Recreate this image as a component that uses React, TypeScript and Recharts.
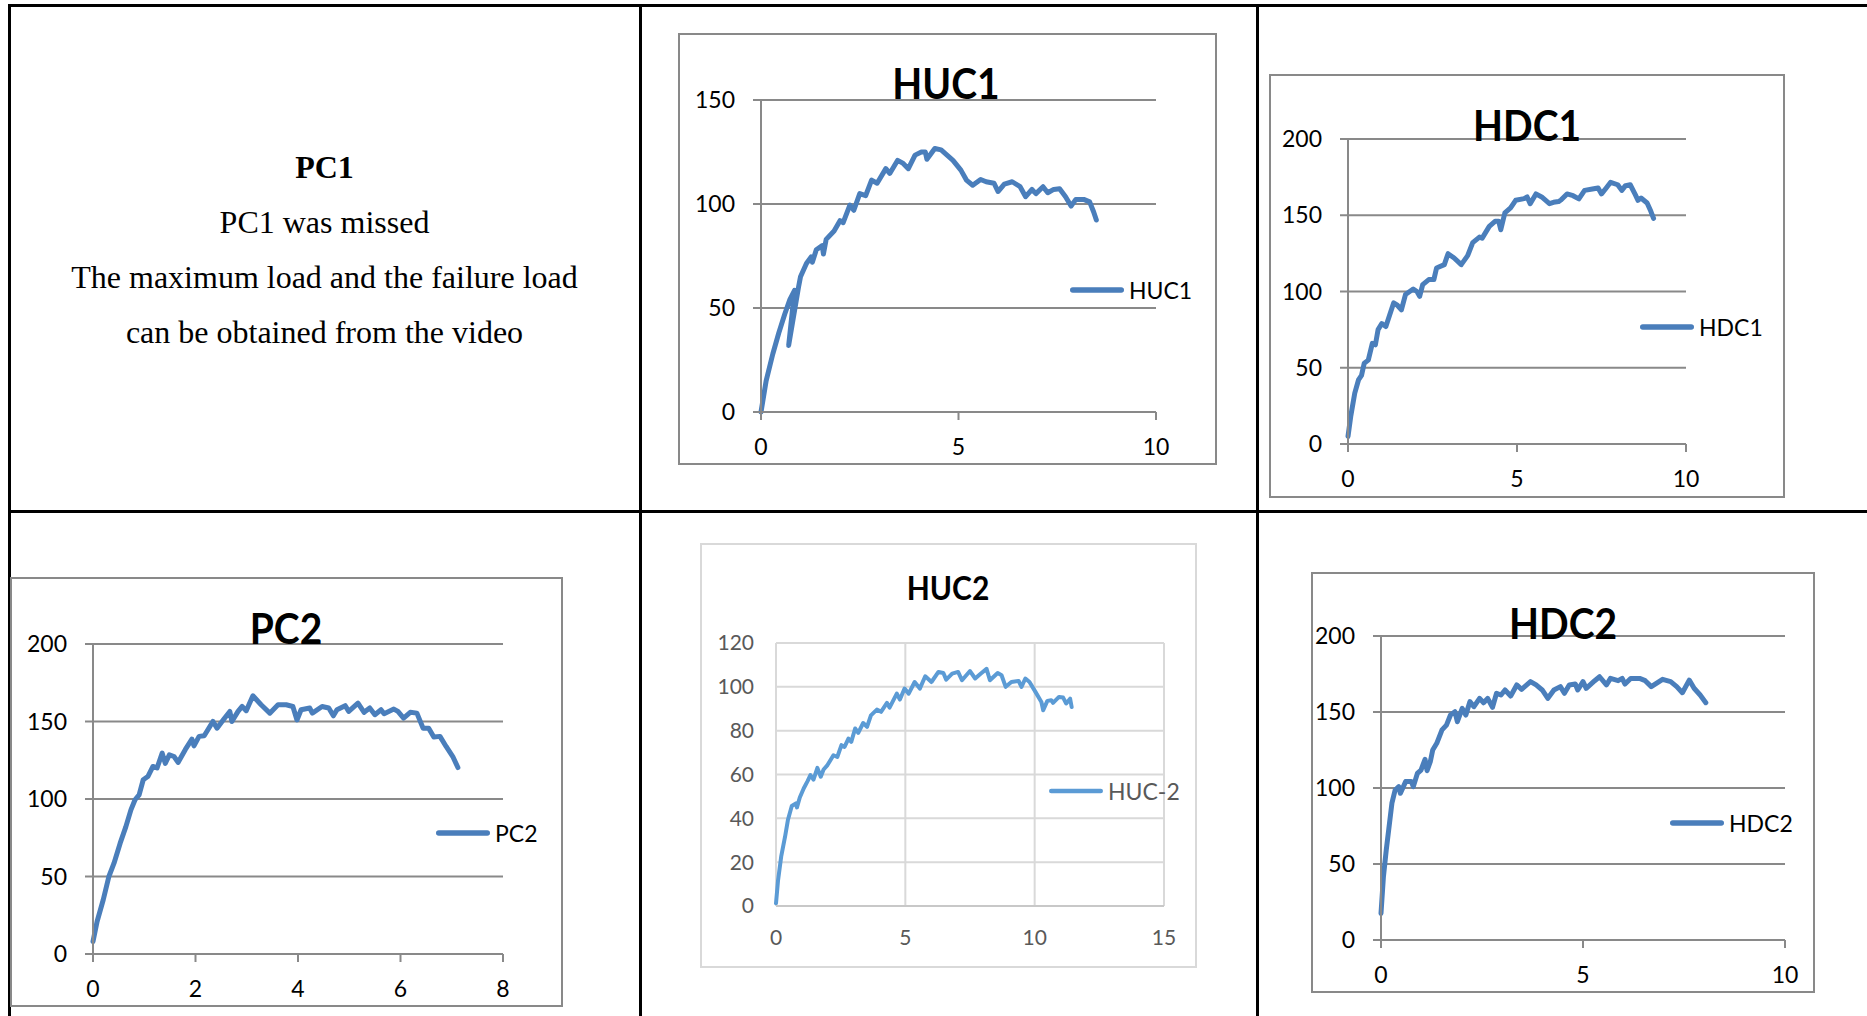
import { LineChart, Line, XAxis, YAxis, CartesianGrid } from "recharts";

// displacement (mm), load (kN)
const huc1 = [
  [0, 0], [0.13, 15], [0.3, 28], [0.45, 38], [0.6, 47], [0.73, 54], [0.85, 58.5], [0.7, 32],
  [0.95, 60], [1.0, 65], [1.15, 71.4], [1.27, 74.6], [1.3, 72], [1.4, 78], [1.55, 80], [1.58, 76],
  [1.65, 83], [1.85, 87], [2.0, 92], [2.08, 91], [2.25, 99.5], [2.35, 97], [2.5, 105], [2.65, 104],
  [2.8, 111.5], [2.94, 110], [3.16, 117], [3.26, 114.7], [3.46, 121], [3.6, 119.5], [3.73, 117],
  [3.9, 123.5], [4.06, 125], [4.16, 125], [4.2, 121.5], [4.4, 126.7], [4.56, 126], [4.86, 121],
  [5.06, 116.3], [5.2, 111.5], [5.36, 109], [5.56, 111.8], [5.7, 110.7], [5.9, 110], [6.0, 106],
  [6.16, 109.6], [6.36, 110.7], [6.56, 108.3], [6.7, 103.5], [6.86, 107], [6.96, 105], [7.14, 108.3],
  [7.26, 105.4], [7.41, 107], [7.56, 107.3], [7.71, 103.5], [7.85, 99], [7.97, 102.2], [8.17, 102.2],
  [8.32, 101], [8.42, 96.3], [8.49, 92.3],
];

const hdc1 = [
  [0, 5], [0.08, 18], [0.2, 33.4], [0.31, 42], [0.4, 45], [0.48, 53], [0.6, 55], [0.72, 66],
  [0.81, 65], [0.89, 75], [1.0, 79], [1.12, 77], [1.35, 92.5], [1.46, 91], [1.58, 88], [1.7, 98],
  [1.93, 101.6], [2.04, 100], [2.12, 96.8], [2.21, 104.5], [2.39, 107.8], [2.54, 107.8], [2.62, 115.4],
  [2.85, 117.6], [2.96, 124.8], [3.14, 122], [3.35, 117.6], [3.54, 123.5], [3.69, 132], [3.89, 135.7],
  [3.97, 135], [4.18, 142.7], [4.35, 146], [4.46, 146], [4.52, 140.5], [4.64, 151.5], [4.81, 154.8],
  [4.96, 159.8], [5.21, 160.9], [5.3, 162], [5.39, 157.6], [5.56, 164], [5.73, 162], [5.96, 157.6],
  [6.08, 158.5], [6.23, 159], [6.3, 160], [6.48, 164], [6.66, 162.8], [6.83, 160.7], [7.0, 166.3],
  [7.23, 167.2], [7.4, 167.9], [7.5, 164], [7.64, 167.9], [7.77, 171.6], [7.98, 170], [8.1, 166.3],
  [8.21, 169.4], [8.35, 170], [8.5, 163.5], [8.58, 159.8], [8.67, 161.3], [8.85, 158], [8.96, 152.6],
  [9.04, 148],
];

const pc2 = [
  [0, 8], [0.08, 21], [0.2, 35], [0.31, 50], [0.41, 58.6], [0.53, 71.5], [0.64, 82], [0.74, 93],
  [0.82, 99.5], [0.9, 102.7], [0.98, 112.4], [1.07, 114.5], [1.17, 121], [1.25, 120], [1.35, 129.6],
  [1.41, 123], [1.49, 128.5], [1.58, 127.4], [1.66, 123.6], [1.8, 131.8], [1.93, 138.6], [1.97, 134.3],
  [2.07, 140.4], [2.17, 140.8], [2.34, 150], [2.42, 145.7], [2.54, 151], [2.67, 156.5], [2.71, 150],
  [2.83, 156.5], [2.91, 159.7], [2.99, 157], [3.12, 166.6], [3.28, 160.8], [3.45, 155.4], [3.61, 160.8],
  [3.77, 160.8], [3.9, 159.7], [3.98, 151], [4.06, 157.6], [4.23, 158.7], [4.28, 155.4], [4.47, 159.7],
  [4.6, 158.7], [4.69, 153.7], [4.76, 157.6], [4.92, 160.2], [4.99, 156.5], [5.17, 161.9], [5.29, 155.9],
  [5.4, 158.7], [5.5, 154.4], [5.62, 157.6], [5.68, 155], [5.87, 158], [5.95, 156.5], [6.06, 152.2],
  [6.19, 155.9], [6.32, 155.4], [6.44, 145.7], [6.55, 145.7], [6.65, 140], [6.77, 140.4], [6.89, 133.9],
  [7.02, 127.4], [7.12, 120.3],
];

const huc2 = [
  [0, 1.2], [0.08, 11.8], [0.2, 22.5], [0.35, 31.6], [0.46, 39.2], [0.61, 45.6], [0.77, 46.8], [0.81, 45],
  [0.92, 49.5], [1.07, 53.6], [1.22, 57], [1.33, 59.7], [1.45, 57.7], [1.6, 63], [1.73, 59], [1.84, 62.3],
  [1.99, 64.3], [2.22, 68.8], [2.37, 68], [2.53, 73.4], [2.65, 72.6], [2.8, 76.4], [2.91, 74.9], [3.06, 81],
  [3.18, 79], [3.37, 83.5], [3.52, 81.7], [3.67, 87], [3.9, 89.6], [4.06, 88.6], [4.29, 92.7], [4.39, 90.5],
  [4.67, 96.9], [4.79, 94.2], [4.97, 99.2], [5.13, 96.9], [5.36, 102.2], [5.56, 99.2], [5.77, 104.8],
  [6.01, 102.2], [6.28, 106.8], [6.47, 106.3], [6.58, 103.3], [6.81, 106], [7.04, 106.8], [7.19, 103],
  [7.5, 107.2], [7.7, 103.8], [7.91, 106], [8.14, 108.2], [8.27, 103], [8.57, 106.3], [8.72, 105.3],
  [8.88, 100], [9.1, 102.2], [9.38, 102.7], [9.49, 100], [9.64, 103.8], [9.8, 102.2], [10.03, 97.7],
  [10.26, 93.1], [10.33, 89.3], [10.49, 93.6], [10.64, 93.9], [10.71, 92.7], [10.94, 95.4], [11.1, 95.1],
  [11.22, 92.4], [11.37, 94.6], [11.43, 90.8],
];

const hdc2 = [
  [0, 17.5], [0.06, 41.7], [0.13, 59.2], [0.19, 72.4], [0.27, 90], [0.35, 98.7], [0.44, 100.9],
  [0.48, 96.5], [0.61, 104.2], [0.75, 104.2], [0.8, 100.9], [0.9, 109.6], [0.99, 111.8], [1.09, 118.9],
  [1.14, 111.4], [1.22, 117.3], [1.28, 125], [1.38, 129.4], [1.51, 138.2], [1.62, 141.4], [1.72, 148],
  [1.83, 150.2], [1.89, 143.6], [2.01, 152.4], [2.1, 148], [2.2, 156.8], [2.3, 153.5], [2.44, 159],
  [2.54, 156.1], [2.64, 159], [2.76, 153.1], [2.86, 162.3], [2.97, 161.2], [3.07, 164.5], [3.21, 160.5],
  [3.36, 167.8], [3.48, 164.9], [3.7, 170], [3.84, 167.8], [3.99, 164.5], [4.13, 159], [4.28, 164.5],
  [4.44, 166.7], [4.54, 162.3], [4.66, 167.8], [4.81, 168.4], [4.87, 164.5], [5.0, 170], [5.08, 165.6],
  [5.29, 170.6], [5.41, 173.2], [5.58, 167.8], [5.68, 172.1], [5.87, 170.6], [5.97, 172.1], [6.04, 168.4],
  [6.18, 172.1], [6.4, 172.1], [6.54, 170.6], [6.69, 166.7], [6.97, 171.5], [7.17, 170], [7.32, 166.7],
  [7.46, 162.7], [7.63, 171], [7.75, 165.6], [7.9, 161.2], [8.04, 156.1],
];

const ticks5of10 = [0, 5, 10];
const ticks2of8 = [0, 2, 4, 6, 8];
const ticks5of15 = [0, 5, 10, 15];
const loadTo150 = [0, 50, 100, 150];
const loadTo200 = [0, 50, 100, 150, 200];
const loadTo120 = [0, 20, 40, 60, 80, 100, 120];

const pc1Note = [
  "PC1 was missed",
  "The maximum load and the failure load",
  "can be obtained from the video",
];

const FONT = "Lato, 'Open Sans', sans-serif";

interface PanelProps {
  name: string;
  title: string;
  points: number[][];
  xTicks: number[];
  yTicks: number[];
  box: { left: number; top: number; width: number; height: number };
  pad: { left: number; right: number; top: number; bottom: number };
  titleAt: [number, number];
  legendAt: [number, number];
  light?: boolean;
}

const Panel = ({ name, title, points, xTicks, yTicks, box, pad, titleAt, legendAt, light }: PanelProps) => {
  const data = points.map(([x, y]) => ({ x, y }));
  const frame = light ? "#d9d9d9" : "#898989";
  const grid = light ? "#d9d9d9" : "#898989";
  const color = light ? "#5b9bd5" : "#4a7ebb";
  const txt = light ? "#595959" : "#000";
  const fs = light ? 21 : 23;
  const tickSize = light ? 0 : 8;
  const titleSize = light ? 30 : 39;
  const lw = light ? 4.5 : 5.5;

  return (
    <>
      <div
        style={{
          position: "absolute",
          left: box.left,
          top: box.top,
          width: box.width,
          height: box.height,
          border: `2px solid ${frame}`,
          boxSizing: "border-box",
        }}
      />
      <div style={{ position: "absolute", left: box.left, top: box.top }}>
        <LineChart
          width={box.width}
          height={box.height}
          data={data}
          margin={{ top: pad.top, right: pad.right, left: 0, bottom: 0 }}
        >
          <CartesianGrid horizontal vertical={!!light} stroke={grid} strokeWidth={2} />
          <XAxis
            type="number"
            dataKey="x"
            domain={[xTicks[0], xTicks[xTicks.length - 1]]}
            ticks={xTicks}
            height={pad.bottom}
            tickSize={tickSize}
            tickMargin={light ? 24 : 19}
            axisLine={{ stroke: light ? "#c8c8c8" : grid, strokeWidth: 2 }}
            tickLine={light ? false : { stroke: grid, strokeWidth: 2 }}
            tick={{ fontSize: fs, fill: txt, fontFamily: FONT }}
          />
          <YAxis
            type="number"
            domain={[yTicks[0], yTicks[yTicks.length - 1]]}
            ticks={yTicks}
            width={pad.left}
            tickSize={tickSize}
            tickMargin={light ? 22 : 18}
            axisLine={light ? false : { stroke: grid, strokeWidth: 2 }}
            tickLine={light ? false : { stroke: grid, strokeWidth: 2 }}
            tick={{ fontSize: fs, fill: txt, fontFamily: FONT }}
          />
          <Line
            type="linear"
            dataKey="y"
            stroke={color}
            strokeWidth={light ? 4 : 5}
            strokeLinejoin="round"
            strokeLinecap="round"
            dot={false}
            isAnimationActive={false}
          />
        </LineChart>
      </div>
      <div
        style={{
          position: "absolute",
          left: titleAt[0] - 200,
          top: titleAt[1] - 26,
          width: 400,
          lineHeight: "50px",
          textAlign: "center",
          fontFamily: FONT,
          fontWeight: 700,
          fontSize: titleSize,
          color: "#000",
          transform: "scaleY(1.1)",
        }}
      >
        {title}
      </div>
      <div
        style={{
          position: "absolute",
          left: legendAt[0],
          top: legendAt[1] - 15,
          height: 30,
          display: "flex",
          alignItems: "center",
          fontFamily: FONT,
          fontSize: fs + (light ? 2 : 0),
          color: txt,
          whiteSpace: "nowrap",
        }}
      >
        <svg width={54} height={10} style={{ display: "block" }}>
          <line x1={lw / 2} y1={5} x2={54 - lw / 2} y2={5} stroke={color} strokeWidth={lw} strokeLinecap="round" />
        </svg>
        <span style={{ marginLeft: 5 }}>{name}</span>
      </div>
    </>
  );
};

const rule = (left: number, top: number, width: number, height: number) => (
  <div style={{ position: "absolute", left, top, width, height, background: "#000" }} />
);

export default function App() {
  return (
    <div
      style={{
        position: "absolute",
        left: 0,
        top: 0,
        width: 1867,
        height: 1016,
        overflow: "hidden",
        background: "#fff",
      }}
    >
      {rule(8, 4, 1859, 2.5)}
      {rule(8, 510, 1859, 2.5)}
      {rule(8, 4, 2.5, 1012)}
      {rule(639, 4, 2.5, 1012)}
      {rule(1256, 4, 2.5, 1012)}

      <div
        style={{
          position: "absolute",
          left: 10,
          top: 140,
          width: 629,
          textAlign: "center",
          fontFamily: "'Liberation Serif', 'Times New Roman', serif",
          fontSize: 32,
          lineHeight: "55px",
          color: "#000",
        }}
      >
        <div style={{ fontWeight: 700 }}>PC1</div>
        {pc1Note.map((t) => (
          <div key={t}>{t}</div>
        ))}
      </div>

      <Panel
        name="HUC1"
        title="HUC1"
        points={huc1}
        xTicks={ticks5of10}
        yTicks={loadTo150}
        box={{ left: 678, top: 33, width: 539, height: 432 }}
        pad={{ left: 83, right: 61, top: 67, bottom: 53 }}
        titleAt={[946, 83]}
        legendAt={[1070, 290]}
      />
      <Panel
        name="HDC1"
        title="HDC1"
        points={hdc1}
        xTicks={ticks5of10}
        yTicks={loadTo200}
        box={{ left: 1269, top: 74, width: 516, height: 424 }}
        pad={{ left: 79, right: 99, top: 65, bottom: 54 }}
        titleAt={[1527, 125]}
        legendAt={[1640, 327]}
      />
      <Panel
        name="PC2"
        title="PC2"
        points={pc2}
        xTicks={ticks2of8}
        yTicks={loadTo200}
        box={{ left: 10, top: 577, width: 553, height: 430 }}
        pad={{ left: 83, right: 60, top: 67, bottom: 53 }}
        titleAt={[286, 628]}
        legendAt={[436, 833]}
      />
      <Panel
        name="HUC-2"
        title="HUC2"
        points={huc2}
        xTicks={ticks5of15}
        yTicks={loadTo120}
        box={{ left: 700, top: 543, width: 497, height: 425 }}
        pad={{ left: 76, right: 33, top: 100, bottom: 62 }}
        titleAt={[948, 588]}
        legendAt={[1049, 791]}
        light
      />
      <Panel
        name="HDC2"
        title="HDC2"
        points={hdc2}
        xTicks={ticks5of10}
        yTicks={loadTo200}
        box={{ left: 1311, top: 572, width: 504, height: 421 }}
        pad={{ left: 70, right: 30, top: 64, bottom: 53 }}
        titleAt={[1563, 623]}
        legendAt={[1670, 823]}
      />
    </div>
  );
}
